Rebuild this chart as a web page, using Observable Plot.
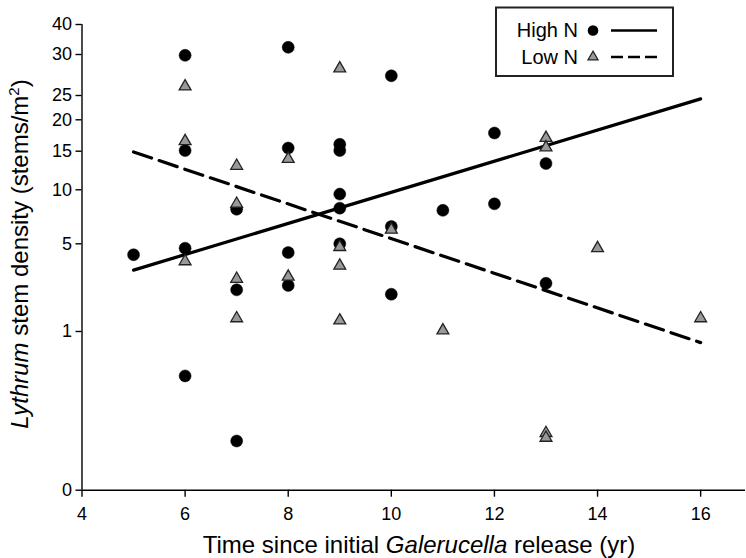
<!DOCTYPE html>
<html><head><meta charset="utf-8">
<script src="https://cdn.jsdelivr.net/npm/d3@7"></script>
<script src="https://cdn.jsdelivr.net/npm/@observablehq/plot@0.6"></script>
<style>body{margin:0;background:#fff}#chart{width:746px;height:558px}</style>
</head><body><div id="chart"></div>
<script>
// ---- data ----
const xTicks = [4, 6, 8, 10, 12, 14, 16];
const yTicks = [0, 1, 5, 10, 15, 20, 25, 30, 40];

const highX = [5, 6, 6, 6, 6, 7, 7, 7, 8, 8, 8, 8, 9, 9, 9, 9, 9, 10, 10, 10, 11, 12, 12, 13, 13];
const highY = [4.5, 29.9, 15.1, 4.8, 0.72, 8.2, 2.9, 0.31, 32.4, 15.5, 4.6, 3.1, 16.1, 15.1, 9.6, 8.3, 5.0, 27.4, 6.6, 2.7, 8.1, 17.9, 8.7, 13.4, 3.2];

const lowX = [6, 6, 6, 7, 7, 7, 7, 8, 8, 9, 9, 9, 9, 10, 11, 13, 13, 13, 13, 14, 16];
const lowY = [26.1, 16.6, 4.2, 13.1, 8.7, 3.4, 1.6, 14.0, 3.5, 28.3, 4.85, 4.0, 1.5, 6.3, 1.05, 17.1, 15.6, 0.36, 0.33, 4.8, 1.6];

const highFitX = [5, 16];
const highFitY = [3.8, 24.3];
const lowFitX = [5, 16];
const lowFitY = [14.9, 0.93];

const seriesNames = ["High N", "Low N"];

// ---- build tables ----
const high = highX.map((x, i) => ({x, y: highY[i]}));
const low = lowX.map((x, i) => ({x, y: lowY[i]}));
const highFit = highFitX.map((x, i) => ({x, y: highFitY[i]}));
const lowFit = lowFitX.map((x, i) => ({x, y: lowFitY[i]}));

const FONT = '"Liberation Sans", Arial, Helvetica, sans-serif';
const H = 558, W = 746;
const bottom = 489.7;

const svg = Plot.plot({
  width: W, height: H,
  marginLeft: 81.5, marginRight: 1, marginTop: 24, marginBottom: H - bottom,
  style: {fontFamily: FONT, fontSize: "18px", color: "#000", background: "#fff", overflow: "visible"},
  x: {domain: [4, 16.87]},
  y: {type: "linear", domain: yTicks, range: [bottom, 331, 243.3, 189.3, 150.7, 119.3, 95, 54, 24]},
  marks: [
    Plot.axisX({ticks: xTicks, tickSize: 7, tickPadding: 10, strokeWidth: 1.4, label: null, fontSize: 18}),
    Plot.axisY({ticks: yTicks, tickSize: 6, tickPadding: 4, strokeWidth: 1.4, label: null, fontSize: 18}),
    Plot.ruleY([0], {stroke: "#000", strokeWidth: 1.4}),
    Plot.ruleX([4], {y1: 0, y2: 40, stroke: "#000", strokeWidth: 1.4}),
    Plot.line(highFit, {x: "x", y: "y", stroke: "#000", strokeWidth: 3.2}),
    Plot.line(lowFit, {x: "x", y: "y", stroke: "#000", strokeWidth: 3.2, strokeDasharray: "19,8"}),
    Plot.dot(high, {x: "x", y: "y", r: 6, symbol: "circle", fill: "#000", stroke: "#000", strokeWidth: 0.5}),
    Plot.dot(low, {x: "x", y: "y", r: 4.4, symbol: "triangle", fill: "#999", stroke: "#222", strokeWidth: 1.3})
  ]
});

const s = d3.select(svg);

// x axis title
const xt = s.append("text").attr("x", 419).attr("y", 553).attr("text-anchor", "middle")
  .attr("font-family", FONT).attr("font-size", 24).attr("fill", "#000");
xt.append("tspan").text("Time since initial ");
xt.append("tspan").attr("font-style", "italic").text("Galerucella");
xt.append("tspan").text(" release (yr)");

// y axis title
const yt = s.append("text").attr("transform", "translate(28,254) rotate(-90)").attr("text-anchor", "middle")
  .attr("font-family", FONT).attr("font-size", 24).attr("fill", "#000");
yt.append("tspan").attr("font-style", "italic").text("Lythrum");
yt.append("tspan").text(" stem density (stems/m");
yt.append("tspan").attr("font-size", 15).attr("dy", -9).text("2");
yt.append("tspan").attr("dy", 9).text(")");

// legend
const lg = s.append("g").attr("font-family", FONT).attr("font-size", 20);
lg.append("rect").attr("x", 496).attr("y", 7.5).attr("width", 177).attr("height", 68.5)
  .attr("fill", "#fff").attr("stroke", "#222").attr("stroke-width", 2);
lg.append("text").attr("x", 578).attr("y", 37).attr("text-anchor", "end").text(seriesNames[0]);
lg.append("text").attr("x", 578).attr("y", 63.5).attr("text-anchor", "end").text(seriesNames[1]);
lg.append("circle").attr("cx", 593).attr("cy", 30.5).attr("r", 5.3).attr("fill", "#000");
lg.append("path").attr("transform", "translate(593,57)").attr("d", d3.symbol(d3.symbolTriangle, 45)())
  .attr("fill", "#999").attr("stroke", "#222").attr("stroke-width", 1.2);
lg.append("line").attr("x1", 611).attr("x2", 657).attr("y1", 30.5).attr("y2", 30.5)
  .attr("stroke", "#000").attr("stroke-width", 2.6);
lg.append("line").attr("x1", 611).attr("x2", 657).attr("y1", 57).attr("y2", 57)
  .attr("stroke", "#000").attr("stroke-width", 2.6).attr("stroke-dasharray", "12,5");

document.getElementById("chart").appendChild(svg);
</script>
</body></html>
